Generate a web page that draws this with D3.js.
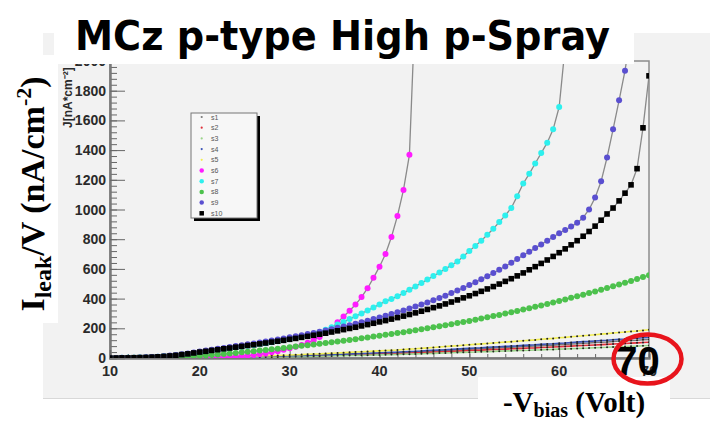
<!DOCTYPE html>
<html><head><meta charset="utf-8">
<script src="https://cdn.jsdelivr.net/npm/d3@7"></script>
<style>html,body{margin:0;padding:0;background:#fff;}svg{display:block;}</style>
</head><body>
<svg id="chart" width="710" height="424"></svg>
<script>
// Bias voltage steps (V)
const voltages = [10,10.67,11.33,12,12.67,13.33,14,14.67,15.33,16,16.67,17.33,18,18.67,19.33,20,20.67,21.33,22,22.67,23.33,24,24.67,25.33,26,26.67,27.33,28,28.67,29.33,30,30.67,31.33,32,32.67,33.33,34,34.67,35.33,36,36.67,37.33,38,38.67,39.33,40,40.67,41.33,42,42.67,43.33,44,44.67,45.33,46,46.67,47.33,48,48.67,49.33,50,50.67,51.33,52,52.67,53.33,54,54.67,55.33,56,56.67,57.33,58,58.67,59.33,60,60.67,61.33,62,62.67,63.33,64,64.67,65.33,66,66.67,67.33,68,68.67,69.33,70];

// Leakage current density J (nA/cm^2) per sensor
const s1 = [0,0,0,0,0,0,1,1,1,1,1,1,2,2,3,3,4,4,5,5,6,7,7,8,9,9,10,11,11,13,13,15,15,17,18,18,20,21,22,24,25,26,28,29,30,32,33,34,36,38,40,41,43,45,47,49,51,53,55,57,59,61,63,65,67,69,71,73,75,77,79,81,83,85,87,90,92,94,96,99,101,104,106,108,111,114,116,118,120,123,125];
const s2 = [0,0,0,0,0,0,0,1,1,1,1,1,2,2,2,3,3,3,4,4,5,6,6,7,7,8,8,9,10,11,11,12,13,14,15,16,17,18,19,20,21,22,24,25,26,27,28,29,30,32,34,35,36,38,40,41,43,45,46,48,50,52,53,55,57,58,60,62,63,65,67,68,71,72,74,76,78,80,82,84,86,88,90,92,94,96,98,100,102,104,106];
const s3 = [0,0,0,0,0,0,0,0,0,1,1,1,1,1,2,2,3,3,3,4,4,4,5,5,6,6,7,7,7,8,9,10,10,11,12,12,13,14,15,16,17,18,18,19,20,21,22,23,24,25,26,27,29,30,31,33,34,35,37,38,39,40,42,43,44,46,47,48,50,51,52,54,55,57,58,60,61,63,64,66,67,69,71,72,74,76,77,79,80,82,84];
const s4 = [0,0,0,0,0,1,1,1,1,1,1,1,2,2,3,4,4,4,5,6,7,7,8,9,9,10,11,12,12,14,15,16,17,18,20,20,22,23,25,26,28,29,31,32,34,35,37,38,39,42,44,45,47,50,52,54,56,58,61,63,65,67,69,72,74,76,78,80,82,85,87,89,92,94,96,99,101,104,107,110,112,115,118,120,123,126,128,131,133,136,139];
const s5 = [0,0,0,0,0,1,1,1,1,2,2,2,3,3,4,5,6,6,7,8,9,10,11,12,13,14,15,16,17,19,20,22,23,25,27,28,30,32,34,36,38,40,42,44,46,48,50,52,54,57,60,62,65,68,71,74,77,80,83,86,89,92,95,98,101,104,107,110,113,116,119,122,126,129,132,136,139,143,146,150,153,157,161,164,168,172,175,179,182,186,190];
const s6 = [0,0,0,0,0,0,0,0,0,0,0,1,1,1,2,2,3,4,5,6,8,10,13,16,20,25,31,38,46,55,65,76,88,102,120,142,168,200,240,280,318,360,410,470,540,615,700,815,957,1132,1368,2400];
const s7 = [0,0,1,1,2,3,4,6,8,11,14,18,22,27,32,38,43,48,54,59,65,71,76,82,88,94,100,106,113,120,127,134,142,150,160,174,190,207,225,243,262,281,300,320,340,361,382,398,415,437,460,482,505,528,552,576,600,625,650,684,720,755,790,830,870,915,960,1010,1090,1175,1240,1310,1380,1450,1540,1690,2100];
const s8 = [0,0,0,1,1,1,2,2,3,4,5,6,8,10,12,14,17,20,23,27,30,34,38,42,46,50,54,59,63,67,72,77,82,86,91,96,101,106,111,116,122,127,133,138,144,150,156,162,168,174,180,187,193,200,207,214,221,228,235,243,250,258,266,274,282,290,299,308,317,326,335,345,354,364,374,384,394,405,415,426,437,448,460,471,483,495,507,519,532,545,558];
const s9 = [0,0,1,1,2,3,5,7,9,12,16,20,25,31,37,44,50,56,62,68,74,80,86,92,98,104,111,118,125,132,139,146,153,161,169,177,185,194,203,212,221,231,241,251,262,273,284,296,308,320,333,346,360,374,389,404,420,437,454,472,491,510,530,551,572,594,617,641,666,692,715,740,765,790,815,840,862,885,910,945,1000,1080,1190,1350,1540,1735,1935,2200];
const s10 = [0,0,1,1,2,3,4,6,8,11,14,18,23,28,34,40,45,51,56,62,67,73,78,84,89,95,101,107,113,119,126,132,139,146,153,160,167,175,183,191,199,207,216,225,234,243,252,262,272,282,293,304,315,327,339,351,364,377,391,405,419,434,449,465,481,498,516,534,553,573,594,615,637,660,684,709,735,762,790,820,852,888,928,970,1010,1058,1110,1166,1275,1550,1900];

const seriesNames = ["s1","s2","s3","s4","s5","s6","s7","s8","s9","s10"];
const seriesValues = [s1,s2,s3,s4,s5,s6,s7,s8,s9,s10];
const seriesColors = ["#7a7a7a","#e0303a","#9ad48a","#3c55b8","#f2ee50","#ff1cff","#2ef0ee","#4cc24c","#5a4fd0","#000000"];
const markerKinds = ["dot","dot","dot","dot","dot","circle","circle","circle","circle","square"];

const xTicks = [10,20,30,40,50,60,70];
const yTicks = [0,200,400,600,800,1000,1200,1400,1600,1800,2000];

const svg = d3.select("#chart");
const W = 710, H = 424;
const plot = {left:110, right:649, top:61, bottom:358};

// page + ROOT canvas
svg.append("rect").attr("width",W).attr("height",H).attr("fill","#fff");
svg.append("rect").attr("x",43).attr("y",33).attr("width",W-43).attr("height",365).attr("fill","#f2f2f2");
svg.append("line").attr("x1",43).attr("x2",W).attr("y1",398.5).attr("y2",398.5).attr("stroke","#d8d8d8");

const x = d3.scaleLinear().domain([10,70]).range([plot.left, plot.right]);
const y = d3.scaleLinear().domain([0,2000]).range([plot.bottom, plot.top]);

// frame
svg.append("rect").attr("x",plot.left).attr("y",plot.top)
  .attr("width",plot.right-plot.left).attr("height",plot.bottom-plot.top)
  .attr("fill","none").attr("stroke","#8c8c8c").attr("stroke-width",1.5);

// y axis: major ticks inward, minor every 40
const yAxis = d3.axisRight(y).tickValues(yTicks).tickSize(15).tickFormat("");
const yMinor = d3.axisRight(y).tickValues(d3.range(0,2001,40)).tickSize(7).tickFormat("");
[yMinor,yAxis].forEach(a=>{
  const g = svg.append("g").attr("transform",`translate(${plot.left},0)`).call(a);
  g.select(".domain").attr("stroke","#7a7a7a").attr("stroke-width",2);
  g.selectAll(".tick line").attr("stroke","#666").attr("stroke-width",1);
});
svg.append("g").selectAll("text").data(yTicks).join("text")
  .attr("x",106).attr("y",d=>y(d)+5).attr("text-anchor","end")
  .attr("font-family","Liberation Sans, Arial, sans-serif").attr("font-weight","bold")
  .attr("font-size",14).attr("fill","#2a2a2a").text(d=>d);

// x axis: ticks pointing up into the frame, minor every 2 V
const xAxis = d3.axisTop(x).tickValues(xTicks).tickSize(8).tickFormat("");
const xMinor = d3.axisTop(x).tickValues(d3.range(10,70.1,2)).tickSize(4).tickFormat("");
[xMinor,xAxis].forEach(a=>{
  const g = svg.append("g").attr("transform",`translate(0,${plot.bottom})`).call(a);
  g.select(".domain").attr("stroke","#7a7a7a").attr("stroke-width",2);
  g.selectAll(".tick line").attr("stroke","#666").attr("stroke-width",1);
});
svg.append("g").selectAll("text").data(xTicks).join("text")
  .attr("x",d=>x(d)).attr("y",376).attr("text-anchor","middle")
  .attr("font-family","Liberation Sans, Arial, sans-serif").attr("font-weight","bold")
  .attr("font-size",14.5).attr("fill","#2a2a2a").text(d=>d);

// ROOT axis title
svg.append("text").attr("transform","translate(72,128) rotate(-90)")
  .attr("font-family","Liberation Sans, Arial, sans-serif").attr("font-weight","bold")
  .attr("font-size",12).attr("fill","#2a2a2a").text("J[nA*cm⁻²]");

// data
svg.append("clipPath").attr("id","plotclip").append("rect")
  .attr("x",plot.left).attr("y",plot.top).attr("width",plot.right-plot.left).attr("height",plot.bottom-plot.top);
const dataG = svg.append("g").attr("clip-path","url(#plotclip)");
const line = d3.line().x(d=>x(d[0])).y(d=>y(d[1]));

function drawMarker(sel, kind, color, size){
  if(kind==="square"){
    sel.append("rect").attr("x",-size/2).attr("y",-size/2).attr("width",size).attr("height",size).attr("fill",color);
  } else {
    sel.append("circle").attr("r",size/2).attr("fill",color);
  }
}

seriesValues.forEach((vals,k)=>{
  const pts = vals.map((v,i)=>[voltages[i], v]);
  const kind = markerKinds[k];
  if(kind==="dot"){
    dataG.append("path").datum(pts).attr("d",line).attr("fill","none")
      .attr("stroke",seriesColors[k]).attr("stroke-width",1.6);
    dataG.append("g").selectAll("circle").data(pts).join("circle")
      .attr("cx",d=>x(d[0])).attr("cy",d=>y(d[1])).attr("r",1).attr("fill","#222");
  } else {
    dataG.append("path").datum(pts).attr("d",line).attr("fill","none")
      .attr("stroke","#8a8a8a").attr("stroke-width",1.3);
    const g = dataG.append("g");
    pts.forEach(p=>{
      const m = g.append("g").attr("transform",`translate(${x(p[0])},${y(p[1])})`);
      drawMarker(m, kind, seriesColors[k], kind==="square"?5.6:6);
    });
  }
});

// legend
const leg = svg.append("g");
const lx = 191, ly = 113, lw = 66, lh = 105;
leg.append("rect").attr("x",lx+3).attr("y",ly+3).attr("width",lw).attr("height",lh).attr("fill","#000");
leg.append("rect").attr("x",lx).attr("y",ly).attr("width",lw).attr("height",lh).attr("fill","#f7f7f7").attr("stroke","#777").attr("stroke-width",1);
seriesNames.forEach((nm,k)=>{
  const yy = 117 + k*10.7;
  const m = leg.append("g").attr("transform",`translate(201.7,${yy})`);
  const kind = markerKinds[k];
  if(kind==="dot") m.append("circle").attr("r",1.1).attr("fill",seriesColors[k]);
  else drawMarker(m, kind, seriesColors[k], 4.5);
  leg.append("text").attr("x",211).attr("y",yy+2.5).attr("font-family","Liberation Sans, Arial, sans-serif")
    .attr("font-size",7).attr("fill","#555").text(nm);
});

// slide overlays
svg.append("rect").attr("x",54).attr("y",0).attr("width",580).attr("height",64).attr("fill","#fff");
svg.append("rect").attr("x",0).attr("y",55).attr("width",58).attr("height",268).attr("fill","#fff");
svg.append("rect").attr("x",478).attr("y",377).attr("width",192).attr("height",47).attr("fill","#fff");

svg.append("text").attr("x",75).attr("y",50)
  .attr("font-family","DejaVu Sans, sans-serif").attr("font-weight","bold").attr("font-size",40)
  .attr("textLength",535).attr("lengthAdjust","spacingAndGlyphs").attr("fill","#000")
  .text("MCz p-type High p-Spray");

const yl = svg.append("text").attr("transform","translate(44,194) rotate(-90)")
  .attr("text-anchor","middle").attr("font-family","Liberation Serif, Times New Roman, serif")
  .attr("font-weight","bold").attr("font-size",34).attr("fill","#000");
yl.append("tspan").text("I");
yl.append("tspan").attr("font-size",24).attr("dy",7).text("leak");
yl.append("tspan").attr("dy",-7).text("/V (nA/cm");
yl.append("tspan").attr("font-size",22).attr("dy",-13).text("-2");
yl.append("tspan").attr("dy",13).text(")");

const xl = svg.append("text").attr("x",574).attr("y",412).attr("text-anchor","middle")
  .attr("font-family","Liberation Serif, Times New Roman, serif").attr("font-weight","bold")
  .attr("font-size",29).attr("fill","#000");
xl.append("tspan").text("-V");
xl.append("tspan").attr("font-size",20).attr("dy",5).text("bias");
xl.append("tspan").attr("dy",-5).text(" (Volt)");

svg.append("text").attr("x",637.5).attr("y",375).attr("text-anchor","middle")
  .attr("font-family","Liberation Sans, Arial, sans-serif").attr("font-weight","bold")
  .attr("font-size",40).attr("fill","#000").text("70");
svg.append("ellipse").attr("cx",647.5).attr("cy",359).attr("rx",34).attr("ry",24.5)
  .attr("fill","none").attr("stroke","#e8141c").attr("stroke-width",4.5);
</script>
</body></html>
